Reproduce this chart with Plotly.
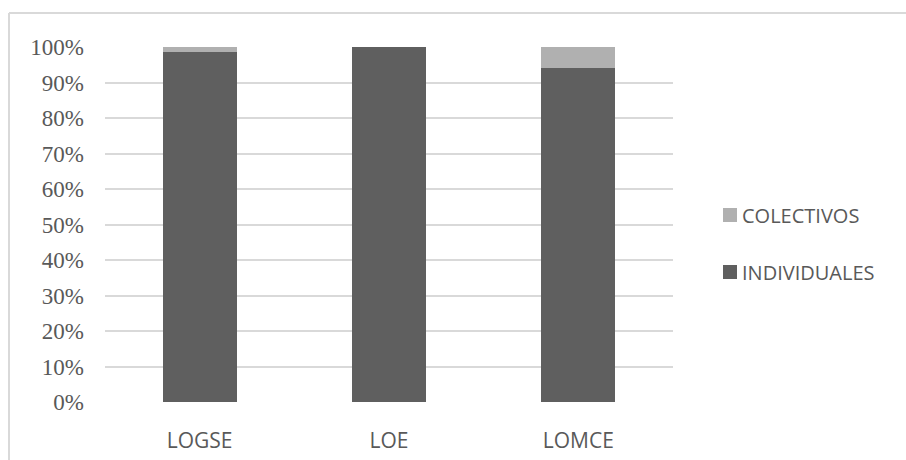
import plotly.graph_objects as go

categories = ["LOGSE", "LOE", "LOMCE"]
individuales = [0.985, 1.0, 0.94]
colectivos = [0.015, 0.0, 0.06]
y_ticks = [0, 0.1, 0.2, 0.3, 0.4, 0.5, 0.6, 0.7, 0.8, 0.9, 1.0]

C_IND = "#5f5f5f"
C_COL = "#b0b0b0"

W, H = 906, 460
L, R, T, B = 105, 233, 47, 58
pw, ph = W - L - R, H - T - B


def px(x):
    return (x - L) / pw


def py(y):
    return (H - B - y) / ph


fig = go.Figure()
fig.add_trace(go.Bar(x=categories, y=individuales, name="INDIVIDUALES",
                     marker=dict(color=C_IND, line=dict(width=0))))
fig.add_trace(go.Bar(x=categories, y=colectivos, name="COLECTIVOS",
                     marker=dict(color=C_COL, line=dict(width=0))))

side_font = dict(family="Open Sans, Liberation Sans Narrow, sans-serif",
                 size=20, color="#595959")

shapes = [
    dict(type="line", xref="paper", yref="paper",
         x0=px(9), x1=px(9), y0=py(13), y1=py(470),
         line=dict(color="#d9d9d9", width=2)),
    dict(type="line", xref="paper", yref="paper",
         x0=px(9), x1=px(920), y0=py(13), y1=py(13),
         line=dict(color="#d9d9d9", width=2)),
]
annotations = []
legend_items = [("COLECTIVOS", C_COL, 215), ("INDIVIDUALES", C_IND, 272)]
for name, col, yc in legend_items:
    shapes.append(dict(type="rect", xref="paper", yref="paper",
                       x0=px(723), x1=px(737), y0=py(yc - 7), y1=py(yc + 7),
                       fillcolor=col, line=dict(width=0)))
    annotations.append(dict(text=name, xref="paper", yref="paper",
                            x=px(740), y=py(yc), xanchor="left", yanchor="middle",
                            showarrow=False, font=side_font))

fig.update_layout(
    width=W, height=H,
    margin=dict(l=L, r=R, t=T, b=B, pad=0, autoexpand=False),
    barmode="stack",
    bargap=0.61,
    plot_bgcolor="white", paper_bgcolor="white",
    showlegend=False,
    xaxis=dict(showgrid=False, showline=False, zeroline=False, ticks="",
               automargin=False,
               tickfont=dict(family="Open Sans, sans-serif", size=21, color="#595959"),
               ticklabelstandoff=24),
    yaxis=dict(range=[0, 1.0], tickvals=y_ticks, tickformat=".0%",
               automargin=False,
               showgrid=True, gridcolor="#d9d9d9", gridwidth=2,
               zeroline=False, showline=False, ticks="",
               tickfont=dict(family="Liberation Serif, Times New Roman, serif",
                             size=23, color="#595959"),
               ticklabelstandoff=20),
    shapes=shapes,
    annotations=annotations,
)

fig.write_html("out.html", config={"displayModeBar": False},
               post_script="document.body.style.margin='0';document.body.style.overflow='hidden';")
